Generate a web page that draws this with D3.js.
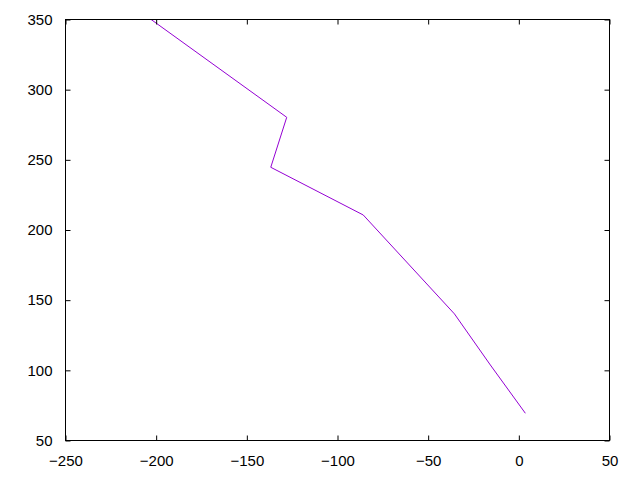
<!DOCTYPE html>
<html><head><meta charset="utf-8">
<script src="https://cdn.jsdelivr.net/npm/d3@7"></script>
<style>body{margin:0;background:#fff}svg{display:block}</style>
</head><body>
<svg id="c" width="640" height="480"></svg>
<script>
const xTicks = [-250, -200, -150, -100, -50, 0, 50];
const yTicks = [50, 100, 150, 200, 250, 300, 350];
const xValues = [3.6, -15.7, -35.5, -85.8, -136.8, -128, -213.5];
const yValues = [69.4, 103.8, 140.2, 210.7, 244.7, 280.3, 360];

const svg = d3.select("#c");
const L = 65.5, R = 609.5, T = 19.5, B = 440.5;
const x = d3.scaleLinear().domain([-250, 50]).range([L, R]);
const y = d3.scaleLinear().domain([50, 350]).range([B, T]);
const font = "Liberation Sans, Arial, sans-serif";
const tick = 5;

svg.append("clipPath").attr("id", "clip").append("rect")
  .attr("x", L).attr("y", T).attr("width", R - L).attr("height", B - T);

const pts = xValues.map((v, i) => [v, yValues[i]]);
svg.append("path").datum(pts)
  .attr("clip-path", "url(#clip)")
  .attr("d", d3.line().x(d => x(d[0])).y(d => y(d[1])))
  .attr("fill", "none").attr("stroke", "#9400d3").attr("stroke-width", 1);

function styleAxis(g) {
  g.select(".domain").remove();
  g.selectAll(".tick line").attr("stroke", "#000");
  g.selectAll(".tick text").attr("font-family", font).attr("font-size", 15).attr("fill", "#000");
}
svg.append("g").attr("transform", `translate(0,${B})`)
  .call(d3.axisBottom(x).tickValues(xTicks).tickSizeInner(-tick).tickSizeOuter(0).tickPadding(15).tickFormat(d3.format("d")))
  .call(styleAxis);
svg.append("g").attr("transform", `translate(0,${T})`)
  .call(d3.axisTop(x).tickValues(xTicks).tickSizeInner(-tick).tickSizeOuter(0).tickFormat(""))
  .call(styleAxis);
svg.append("g").attr("transform", `translate(${L},0)`)
  .call(d3.axisLeft(y).tickValues(yTicks).tickSizeInner(-tick).tickSizeOuter(0).tickPadding(13).tickFormat(d3.format("d")))
  .call(styleAxis);
svg.append("g").attr("transform", `translate(${R},0)`)
  .call(d3.axisRight(y).tickValues(yTicks).tickSizeInner(-tick).tickSizeOuter(0).tickFormat(""))
  .call(styleAxis);

svg.append("rect").attr("x", L).attr("y", T).attr("width", R - L).attr("height", B - T)
  .attr("fill", "none").attr("stroke", "#000").attr("stroke-width", 1);
</script>
</body></html>
